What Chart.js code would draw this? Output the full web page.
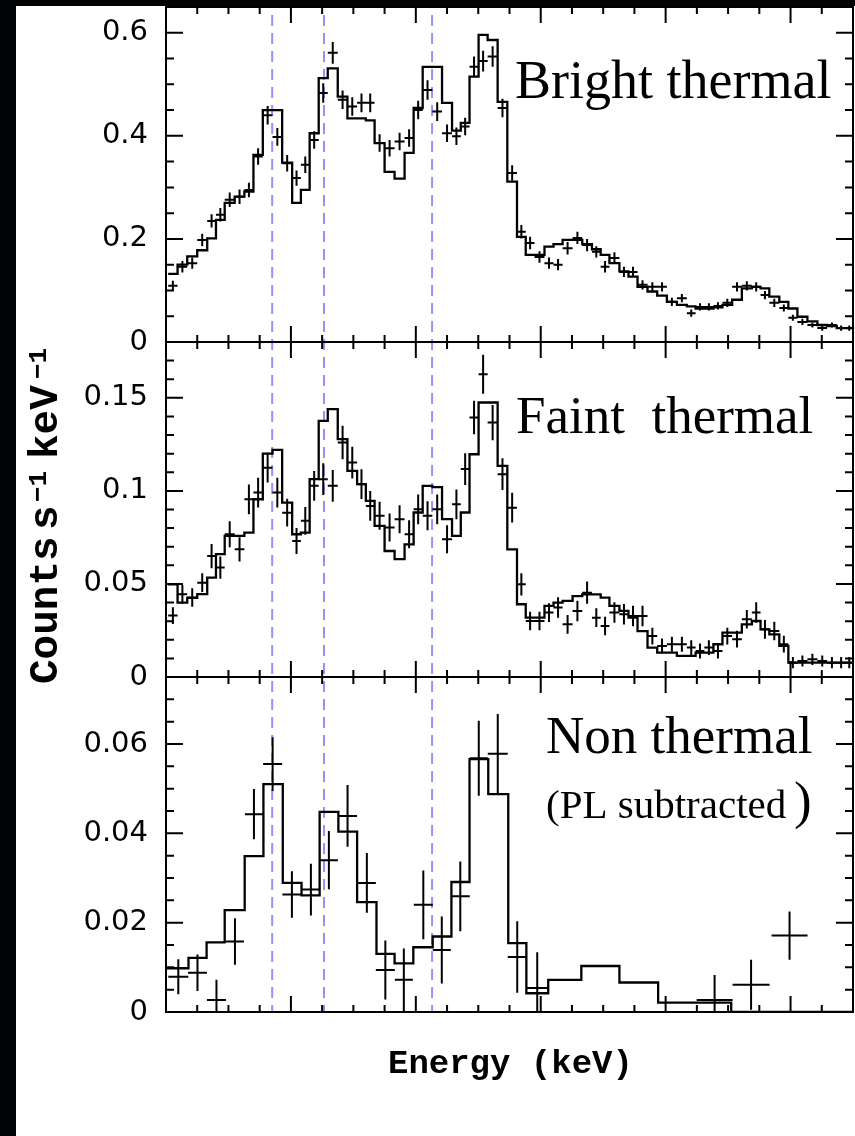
<!DOCTYPE html>
<html>
<head>
<meta charset="utf-8">
<script src="https://cdn.jsdelivr.net/npm/chart.js@4.4.1/dist/chart.umd.min.js"></script>
<style>
  html, body { margin: 0; padding: 0; background: #020306; }
  #sheet { position: absolute; left: 16px; top: 6px; right: 0; bottom: 0; background: #ffffff; }
  #wrap { position: absolute; left: 0; top: 0; width: 855px; height: 1136px; }
</style>
</head>
<body>
<div id="sheet"></div>
<div id="wrap"><canvas id="spectra" width="855" height="1136"></canvas></div>
<script>
// Bin centres (keV) shared by the bright and faint thermal spectra
const energyFine = [
  0.411, 0.426, 0.442, 0.458, 0.474, 0.486, 0.502, 0.518, 0.533, 0.547,
  0.563, 0.578, 0.594, 0.610, 0.622, 0.638, 0.651, 0.667, 0.683, 0.698,
  0.714, 0.726, 0.742, 0.758, 0.774, 0.790, 0.803, 0.819, 0.834, 0.850,
  0.866, 0.878, 0.894, 0.907, 0.923, 0.939, 0.954, 0.970, 0.982, 0.998,
  1.014, 1.027, 1.043, 1.059, 1.074, 1.090, 1.102, 1.118, 1.134, 1.147,
  1.163, 1.179, 1.194, 1.210, 1.226, 1.242, 1.254, 1.270, 1.283, 1.299,
  1.314, 1.330, 1.346, 1.358, 1.374, 1.390, 1.403, 1.419, 1.435, 1.451,
  1.466, 1.482, 1.494
];

// Bright thermal region: counts s^-1 keV^-1, 1-sigma errors, model
const brightCounts = [
  0.109, 0.146, 0.153, 0.198, 0.235, 0.247, 0.276, 0.282, 0.295, 0.360,
  0.440, 0.398, 0.347, 0.318, 0.344, 0.392, 0.483, 0.561, 0.470, 0.457,
  0.464, 0.464, 0.386, 0.376, 0.389, 0.396, 0.450, 0.489, 0.447, 0.405,
  0.399, 0.418, 0.534, 0.545, 0.554, 0.454, 0.328, 0.214, 0.192, 0.165,
  0.153, 0.150, 0.182, 0.202, 0.188, 0.175, 0.146, 0.163, 0.136, 0.136,
  0.111, 0.107, 0.107, 0.078, 0.085, 0.056, 0.068, 0.068, 0.070, 0.076,
  0.107, 0.109, 0.107, 0.091, 0.076, 0.066, 0.047, 0.039, 0.033, 0.027,
  0.033, 0.027, 0.027
];
const brightErr = [
  0.010, 0.011, 0.011, 0.012, 0.013, 0.013, 0.014, 0.014, 0.014, 0.016,
  0.018, 0.017, 0.016, 0.015, 0.016, 0.017, 0.019, 0.021, 0.018, 0.018,
  0.018, 0.018, 0.017, 0.016, 0.017, 0.017, 0.018, 0.019, 0.018, 0.017,
  0.017, 0.017, 0.020, 0.020, 0.020, 0.018, 0.015, 0.013, 0.012, 0.011,
  0.011, 0.011, 0.012, 0.012, 0.012, 0.011, 0.011, 0.011, 0.010, 0.010,
  0.009, 0.009, 0.009, 0.008, 0.008, 0.007, 0.007, 0.007, 0.007, 0.008,
  0.009, 0.009, 0.009, 0.008, 0.008, 0.007, 0.006, 0.006, 0.005, 0.005,
  0.005, 0.005, 0.005
];
const brightModel = [
  0.132, 0.150, 0.166, 0.178, 0.201, 0.237, 0.270, 0.282, 0.292, 0.363,
  0.450, 0.450, 0.348, 0.270, 0.295, 0.405, 0.512, 0.531, 0.476, 0.434,
  0.434, 0.430, 0.386, 0.330, 0.317, 0.367, 0.454, 0.534, 0.534, 0.464,
  0.410, 0.425, 0.515, 0.596, 0.586, 0.466, 0.311, 0.204, 0.169, 0.169,
  0.185, 0.190, 0.198, 0.198, 0.190, 0.180, 0.169, 0.153, 0.137, 0.127,
  0.107, 0.098, 0.090, 0.078, 0.072, 0.069, 0.065, 0.065, 0.067, 0.072,
  0.082, 0.104, 0.107, 0.104, 0.088, 0.078, 0.065, 0.049, 0.040, 0.033,
  0.031, 0.027, 0.027
];

// Faint thermal region
const faintCounts = [
  0.0330, 0.0444, 0.0427, 0.0507, 0.0650, 0.0588, 0.0767, 0.0686, 0.0955, 0.0991,
  0.1125, 0.0991, 0.0883, 0.0731, 0.0839, 0.1027, 0.1063, 0.1027, 0.1260, 0.1152,
  0.1036, 0.0919, 0.0866, 0.0803, 0.0848, 0.0767, 0.0901, 0.0866, 0.0901, 0.0740,
  0.0928, 0.1117, 0.1394, 0.1627, 0.1367, 0.1090, 0.0910, 0.0498, 0.0301, 0.0301,
  0.0346, 0.0373, 0.0283, 0.0355, 0.0453, 0.0319, 0.0274, 0.0346, 0.0337, 0.0328,
  0.0328, 0.0220, 0.0167, 0.0176, 0.0176, 0.0158, 0.0140, 0.0158, 0.0140, 0.0220,
  0.0203, 0.0310, 0.0346, 0.0256, 0.0247, 0.0176, 0.0077, 0.0086, 0.0095, 0.0086,
  0.0077, 0.0077, 0.0077
];
const faintErr = [
  0.0045, 0.0050, 0.0050, 0.0050, 0.0065, 0.0060, 0.0070, 0.0065, 0.0080, 0.0080,
  0.0080, 0.0080, 0.0075, 0.0070, 0.0075, 0.0080, 0.0085, 0.0085, 0.0090, 0.0085,
  0.0080, 0.0080, 0.0075, 0.0075, 0.0075, 0.0075, 0.0080, 0.0078, 0.0080, 0.0075,
  0.0080, 0.0085, 0.0090, 0.0105, 0.0095, 0.0085, 0.0080, 0.0060, 0.0050, 0.0050,
  0.0050, 0.0055, 0.0050, 0.0055, 0.0060, 0.0050, 0.0050, 0.0055, 0.0055, 0.0055,
  0.0055, 0.0045, 0.0040, 0.0040, 0.0040, 0.0040, 0.0040, 0.0040, 0.0040, 0.0045,
  0.0045, 0.0050, 0.0055, 0.0050, 0.0050, 0.0045, 0.0030, 0.0030, 0.0030, 0.0030,
  0.0030, 0.0030, 0.0030
];
const faintModel = [
  0.0498, 0.0400, 0.0425, 0.0445, 0.0534, 0.0660, 0.0758, 0.0758, 0.0776, 0.0955,
  0.1200, 0.1220, 0.0937, 0.0767, 0.0776, 0.1063, 0.1376, 0.1439, 0.1278, 0.1108,
  0.1036, 0.0946, 0.0812, 0.0677, 0.0633, 0.0713, 0.0884, 0.1027, 0.1020, 0.0848,
  0.0758, 0.0884, 0.1197, 0.1475, 0.1475, 0.1134, 0.0686, 0.0391, 0.0319, 0.0319,
  0.0382, 0.0400, 0.0409, 0.0435, 0.0444, 0.0444, 0.0427, 0.0382, 0.0355, 0.0319,
  0.0247, 0.0158, 0.0131, 0.0131, 0.0113, 0.0113, 0.0131, 0.0131, 0.0176, 0.0238,
  0.0238, 0.0283, 0.0301, 0.0256, 0.0229, 0.0167, 0.0077, 0.0077, 0.0077, 0.0077,
  0.0077, 0.0077, 0.0077
];

// Non-thermal component (power law subtracted), coarser grouping
const nonEnergy = [
  0.4197, 0.4504, 0.4808, 0.5104, 0.5408, 0.5707, 0.6016, 0.6320, 0.6608, 0.6907,
  0.7216, 0.7512, 0.7808, 0.8120, 0.8416, 0.8712, 0.9008, 0.9312, 0.9624, 0.9944,
  1.2784, 1.3368, 1.3984
];
const nonHalfWidth = [
  0.0160, 0.0152, 0.0152, 0.0144, 0.0144, 0.0152, 0.0152, 0.0144, 0.0144, 0.0152,
  0.0144, 0.0152, 0.0144, 0.0152, 0.0144, 0.0152, 0.0144, 0.0160, 0.0152, 0.0168,
  0.0288, 0.0296, 0.0288
];
const nonCounts = [
  0.0079, 0.0088, 0.0027, 0.0158, 0.0443, 0.0555, 0.0263, 0.0274, 0.0340, 0.0439,
  0.0289, 0.0094, 0.0072, 0.0240, 0.0139, 0.0259, 0.0568, 0.0578, 0.0123, 0.0054,
  0.0027, 0.0061, 0.0171
];
const nonErr = [
  0.0039, 0.0041, 0.0045, 0.0052, 0.0056, 0.0060, 0.0052, 0.0058, 0.0065, 0.0069,
  0.0067, 0.0066, 0.0070, 0.0077, 0.0075, 0.0078, 0.0084, 0.0089, 0.0080, 0.0080,
  0.0056, 0.0056, 0.0054
];
const nonModelEdges = [
  0.401, 0.436, 0.465, 0.494, 0.526, 0.556, 0.587, 0.617, 0.646, 0.676,
  0.706, 0.737, 0.766, 0.796, 0.827, 0.857, 0.886, 0.916, 0.948, 0.977,
  1.012, 1.065, 1.126, 1.188, 1.249, 1.305, 1.366, 1.427, 1.500
];
const nonModelLevels = [
  0.0098, 0.0121, 0.0156, 0.0228, 0.0349, 0.0510, 0.0289, 0.0261, 0.0448, 0.0404,
  0.0246, 0.0130, 0.0109, 0.0145, 0.0169, 0.0291, 0.0566, 0.0488, 0.0154, 0.0042,
  0.0072, 0.0103, 0.0066, 0.0021, 0.0021, 0, 0, 0
];

// Line energies marked with dashed guides (O VII, O VIII, Fe XVII)
const lineEnergies = [0.570, 0.653, 0.826];

// Count-rate axes per panel: [max, labelled step, minor step]
const brightAxis = [0.65, 0.2, 0.05];
const faintAxis = [0.18, 0.05, 0.01];
const nonAxis = [0.075, 0.02, 0.005];

// Energy axis tick spacing
const energyRange = [0.4, 1.5];
const energyMajor = 0.2;
const energyMinor = 0.05;

// ---------- helpers ----------
function edgesFromCentres(c) {
  const e = [c[0] - (c[1] - c[0]) / 2];
  for (let i = 1; i < c.length; i++) e.push((c[i - 1] + c[i]) / 2);
  e.push(c[c.length - 1] + (c[c.length - 1] - c[c.length - 2]) / 2);
  return e;
}
function histogram(edges, levels) {
  const pts = [];
  for (let i = 0; i < levels.length; i++) {
    pts.push({ x: edges[i], y: levels[i] });
    pts.push({ x: edges[i + 1], y: levels[i] });
  }
  return pts;
}
function crossesFromBins(edges, counts, err) {
  return counts.map((v, i) => ({
    x: (edges[i] + edges[i + 1]) / 2, y: v,
    xMin: edges[i], xMax: edges[i + 1], yMin: v - err[i], yMax: v + err[i]
  }));
}
function crossesFromCentres(centres, half, counts, err) {
  return counts.map((v, i) => ({
    x: centres[i], y: v,
    xMin: centres[i] - half[i], xMax: centres[i] + half[i], yMin: v - err[i], yMax: v + err[i]
  }));
}

const fineEdges = edgesFromCentres(energyFine);

function modelSet(points, axis) {
  return {
    data: points, yAxisID: axis, showLine: true, pointRadius: 0,
    borderColor: '#000', borderWidth: 2.3, borderJoinStyle: 'miter', borderCapStyle: 'butt',
    fill: false, tension: 0
  };
}
function crossSet(points, axis) {
  return { data: points, yAxisID: axis, crosses: true, pointRadius: 0, showLine: false };
}

const fmtTick = v => String(+v.toFixed(3));
function yScale(axis) {
  return {
    type: 'linear', position: 'left', stack: 'spectra', stackWeight: 1,
    min: 0, max: axis[0],
    grid: { display: false, drawTicks: false },
    border: { display: false },
    ticks: {
      stepSize: axis[1], includeBounds: false, padding: 18, color: '#000',
      autoSkip: false, font: { family: 'DejaVu Sans', size: 29 }, callback: fmtTick
    },
    afterFit(s) {
      s.width = 166;
      s.paddingTop = 0;
      s.paddingBottom = 0;
    }
  };
}

// ---------- frames, ticks, crosses, guides and text ----------
const spectrumDecor = {
  id: 'spectrumDecor',
  beforeDatasetsDraw(chart) {
    const { ctx, scales } = chart;
    const xs = scales.x;
    ctx.save();
    ctx.strokeStyle = 'rgba(105,105,255,0.72)';
    ctx.lineWidth = 2;
    ctx.setLineDash([11, 7]);
    for (const e of lineEnergies) {
      const px = xs.getPixelForValue(e);
      ctx.beginPath();
      ctx.moveTo(px, scales.yBright.top + 8);
      ctx.lineTo(px, scales.yNon.bottom);
      ctx.stroke();
    }
    ctx.restore();
  },
  afterDatasetsDraw(chart) {
    const { ctx, scales } = chart;
    const xs = scales.x;

    // data points with error bars
    chart.data.datasets.forEach(ds => {
      if (!ds.crosses) return;
      const ys = scales[ds.yAxisID];
      ctx.save();
      ctx.beginPath();
      ctx.rect(xs.left, ys.top, xs.right - xs.left, ys.bottom - ys.top);
      ctx.clip();
      ctx.strokeStyle = '#000';
      ctx.lineWidth = 2;
      ctx.beginPath();
      for (const p of ds.data) {
        const cx = xs.getPixelForValue(p.x), cy = ys.getPixelForValue(p.y);
        ctx.moveTo(xs.getPixelForValue(p.xMin), cy);
        ctx.lineTo(xs.getPixelForValue(p.xMax), cy);
        ctx.moveTo(cx, ys.getPixelForValue(p.yMin));
        ctx.lineTo(cx, ys.getPixelForValue(p.yMax));
      }
      ctx.stroke();
      ctx.restore();
    });

    // panel frames with inward ticks on all four sides
    ctx.save();
    ctx.strokeStyle = '#000';
    ctx.lineWidth = 2;
    const panels = [['yBright', brightAxis], ['yFaint', faintAxis], ['yNon', nonAxis]];
    for (const [id, axis] of panels) {
      const ys = scales[id];
      const L = xs.left, R = xs.right, T = ys.top, B = ys.bottom;
      ctx.beginPath();
      ctx.rect(L, T, R - L, B - T);
      // energy ticks
      const nMinor = Math.round((energyRange[1] - energyRange[0]) / energyMinor);
      const perMajor = Math.round(energyMajor / energyMinor);
      for (let k = 1; k < nMinor; k++) {
        const px = xs.getPixelForValue(energyRange[0] + k * energyMinor);
        const len = (k % perMajor === 0) ? 16 : 7;
        ctx.moveTo(px, T); ctx.lineTo(px, T + len);
        ctx.moveTo(px, B); ctx.lineTo(px, B - len);
      }
      // count-rate ticks
      const nY = Math.floor(axis[0] / axis[2] + 1e-6);
      const perYMajor = Math.round(axis[1] / axis[2]);
      for (let k = 1; k <= nY; k++) {
        const py = ys.getPixelForValue(k * axis[2]);
        if (py <= T + 1) continue;
        const len = (k % perYMajor === 0) ? 17 : 8;
        ctx.moveTo(L, py); ctx.lineTo(L + len, py);
        ctx.moveTo(R, py); ctx.lineTo(R - len, py);
      }
      ctx.stroke();
    }
    ctx.restore();

    // panel captions
    ctx.save();
    ctx.fillStyle = '#000';
    ctx.textBaseline = 'alphabetic';
    ctx.textAlign = 'left';
    ctx.font = '54px "Liberation Serif"';
    ctx.fillText('Bright thermal', 515, 98);
    ctx.font = '53px "Liberation Serif"';
    ctx.fillText('Faint  thermal', 516, 433);
    ctx.fillText('Non thermal', 546, 753);
    ctx.font = '41px "Liberation Serif"';
    ctx.fillText('(PL subtracted', 546, 818);
    ctx.font = '53px "Liberation Serif"';
    ctx.fillText(')', 794, 818);

    // axis titles
    ctx.font = 'bold 34px "Liberation Mono"';
    ctx.fillText('Energy (keV)', 388, 1073);

    ctx.translate(57, 0);
    ctx.rotate(-Math.PI / 2);
    ctx.font = 'bold 41px "Liberation Mono"';
    ctx.fillText('Counts', -684, 0);
    ctx.fillText('s', -530, 0);
    ctx.fillText('keV', -459, 0);
    ctx.font = 'bold 26px "Liberation Mono"';
    ctx.fillText('\u22121', -502, -11);
    ctx.fillText('\u22121', -379, -11);
    ctx.restore();
  }
};

new Chart(document.getElementById('spectra'), {
  type: 'scatter',
  data: {
    datasets: [
      modelSet(histogram(fineEdges, brightModel), 'yBright'),
      crossSet(crossesFromBins(fineEdges, brightCounts, brightErr), 'yBright'),
      modelSet(histogram(fineEdges, faintModel), 'yFaint'),
      crossSet(crossesFromBins(fineEdges, faintCounts, faintErr), 'yFaint'),
      modelSet(histogram(nonModelEdges, nonModelLevels), 'yNon'),
      crossSet(crossesFromCentres(nonEnergy, nonHalfWidth, nonCounts, nonErr), 'yNon')
    ]
  },
  options: {
    responsive: false,
    animation: false,
    devicePixelRatio: 1,
    events: [],
    layout: { padding: { left: 0, right: 2, top: 7, bottom: 124 } },
    plugins: { legend: { display: false }, tooltip: { enabled: false } },
    scales: {
      x: { type: 'linear', min: energyRange[0], max: energyRange[1], display: false },
      yNon: yScale(nonAxis),
      yFaint: yScale(faintAxis),
      yBright: yScale(brightAxis)
    }
  },
  plugins: [spectrumDecor]
});
</script>
</body>
</html>
